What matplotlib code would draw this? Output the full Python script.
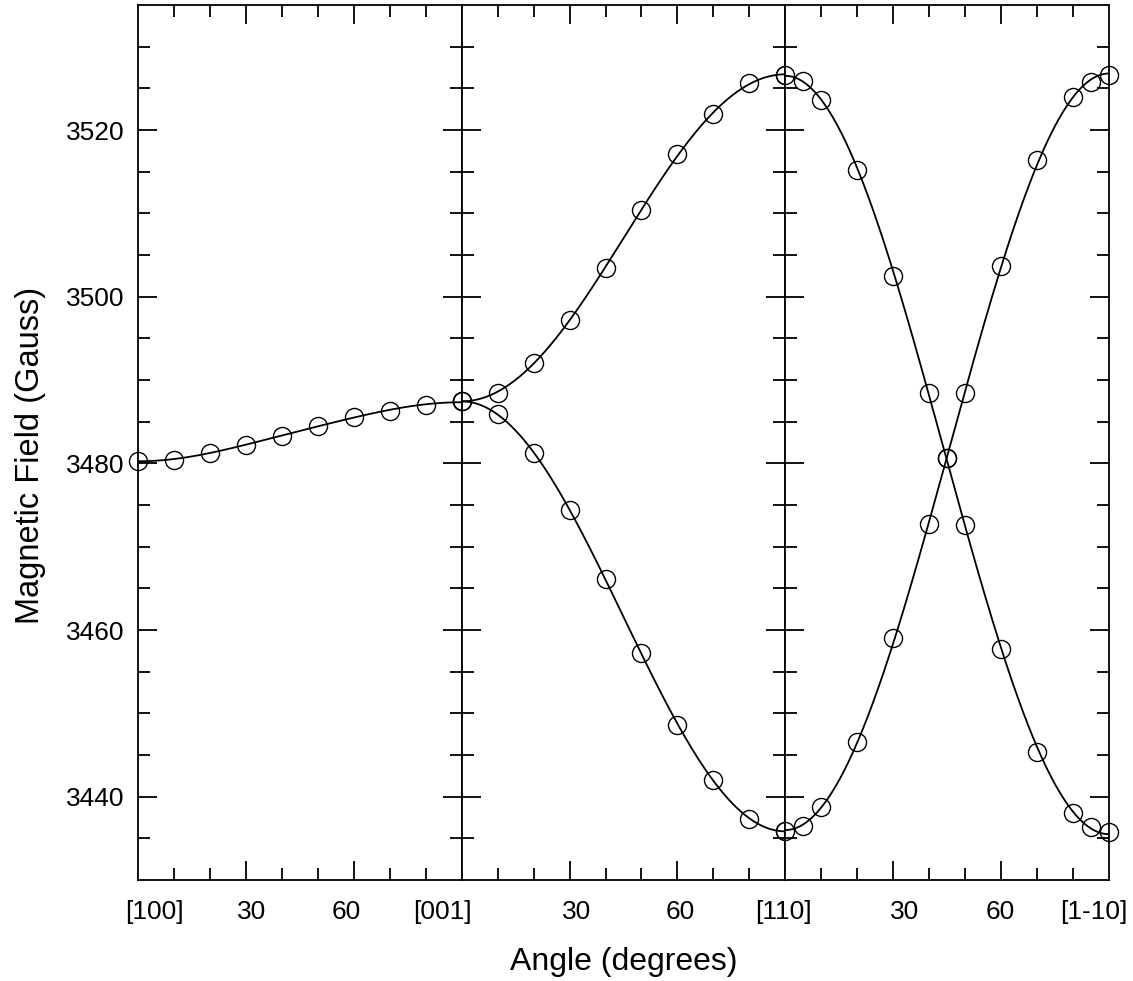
import numpy as np
import matplotlib.pyplot as plt

plt.rcParams['font.family'] = ['Liberation Sans', 'DejaVu Sans']

# panel 1: [100] -> [001]
ang_a = [0, 10, 20, 30, 40, 50, 60, 70, 80, 90]
field_a = [3480.3, 3480.45, 3481.25, 3482.25, 3483.3, 3484.45, 3485.6, 3486.3, 3487.0, 3487.45]

# panel 2: [001] -> [110], two branches
ang_b = [0, 10, 20, 30, 40, 50, 60, 70, 80, 90]
field_b_up = [3487.5, 3488.45, 3492.05, 3497.25, 3503.45, 3510.4, 3517.1, 3521.95, 3525.6, 3526.65]
field_b_lo = [3487.45, 3485.9, 3481.25, 3474.4, 3466.1, 3457.2, 3448.6, 3442.0, 3437.3, 3435.9]

# panel 3: [110] -> [1-10], two branches
ang_c = [0, 5, 10, 20, 30, 40, 45, 50, 60, 70, 80, 85, 90]
field_c_dn = [3526.65, 3525.9, 3523.6, 3515.2, 3502.5, 3488.4, 3480.6, 3472.6, 3457.7, 3445.4, 3438.0, 3436.4, 3435.8]
field_c_up = [3435.9, 3436.5, 3438.8, 3446.6, 3459.0, 3472.7, 3480.6, 3488.5, 3503.65, 3516.45, 3523.95, 3525.8, 3526.65]

labels_a = ['[100]', '30', '60', '[001]']
labels_b = ['30', '60', '[110]']
labels_c = ['30', '60', '[1-10]']
yticks = [3440, 3460, 3480, 3500, 3520]


def smooth(ang, field, n=4):
    # least squares fit with cos(2k*theta) terms, just for the drawn line
    t = np.radians(ang)
    A = np.column_stack([np.cos(2 * k * t) for k in range(n)])
    coef = np.linalg.lstsq(A, np.array(field), rcond=None)[0]
    tt = np.linspace(0, 90, 400)
    B = np.column_stack([np.cos(2 * k * np.radians(tt)) for k in range(n)])
    return tt, B @ coef


W, H = 1133, 981
fig = plt.figure(figsize=(W / 100, H / 100), dpi=100)
left, bottom, top = 138, 880, 5
pw = (1109 - 138) / 3.0

panels = [
    ([(ang_a, field_a)], labels_a, [4.7, 31.5, 58.0, 84.7]),
    ([(ang_b, field_b_up), (ang_b, field_b_lo)], labels_b, [32.1, 60.8, 89.4]),
    ([(ang_c, field_c_dn), (ang_c, field_c_up)], labels_c, [33.3, 59.7, 85.7]),
]

axes = []
for i, (series, labs, pos) in enumerate(panels):
    ax = fig.add_axes([(left + i * pw) / W, 1 - bottom / H, pw / W, (bottom - top) / H])
    for ang, fld in series:
        tt, yy = smooth(ang, fld)
        ax.plot(tt, yy, color='k', lw=1.3)
        ax.plot(ang, fld, 'o', mfc='none', mec='k', ms=13, mew=1.0, clip_on=False, zorder=3)
    ax.set_xlim(0, 90)
    ax.set_ylim(3430, 3535)
    ax.set_xticks([30, 60])
    ax.set_xticks([10, 20, 40, 50, 70, 80], minor=True)
    ax.set_yticks(yticks)
    ax.set_yticks(np.arange(3435, 3535, 5), minor=True)
    ax.tick_params(which='both', direction='in', top=True, right=True, width=1.3,
                   labelbottom=False, labelsize=19, pad=10)
    ax.tick_params(which='major', length=13.5)
    ax.tick_params(which='minor', length=8.5)
    if i > 0:
        ax.tick_params(labelleft=False)
    for s in ax.spines.values():
        s.set_linewidth(1.3)
    for lab, p in zip(labs, pos):
        ax.text(p, -0.0366, lab, transform=ax.get_xaxis_transform(),
                ha='center', va='center', fontsize=19)
    axes.append(ax)

fig.text(623.5 / W, 1 - 970 / H, 'Angle (degrees)', ha='center', va='baseline', fontsize=23)
fig.text(31 / W, 1 - 455 / H, 'Magnetic Field (Gauss)', ha='center', va='center',
         rotation=90, fontsize=23.5)

fig.savefig('out.png', dpi=100)
